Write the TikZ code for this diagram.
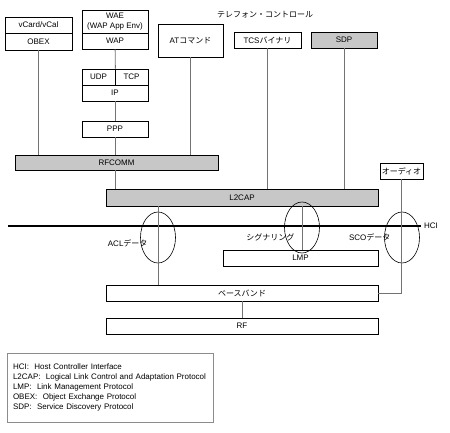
\documentclass[tikz,border=0pt]{standalone}
\usepackage{fontspec}
\setmainfont{Liberation Sans}
\newfontfamily\jp{Noto Sans CJK JP}
\usetikzlibrary{positioning,shapes.geometric}

\begin{document}
\begin{tikzpicture}[x=1pt,y=-1pt,font=\fontsize{8}{10}\selectfont,
	layer/.style={draw,line width=0.8pt,rectangle,inner sep=0pt,minimum height=16pt},
	grayed/.style={layer,fill=black!22},
	link/.style={draw=black!55,line width=0.8pt},
	lasso/.style={draw,ellipse,line width=0.6pt,inner sep=0pt,minimum width=35pt,minimum height=51pt}]
				\useasboundingbox (0,0) rectangle (450,432);
				% upper stacks
				\node[layer,minimum width=67pt] (vcard) at (38.5,25) {vCard/vCal};
				\node[layer,minimum width=67pt,minimum height=17pt] (obex) at (38.5,41.5) {OBEX};
				\node[layer,minimum width=66pt,minimum height=23pt,align=center] (wae) at (115,21.5) {WAE\\(WAP App Env)};
				\node[layer,minimum width=66pt] (wap) at (115,41) {WAP};
				\node[layer,minimum width=33pt] (udp) at (98.5,77) {UDP};
				\node[layer,minimum width=33pt] (tcp) at (131.5,77) {TCP};
				\node[layer,minimum width=66pt] (ip) at (115,93) {IP};
				\node[layer,minimum width=66pt] (ppp) at (115,129) {PPP};
				\node[layer,minimum width=65pt,minimum height=33pt] (at) at (190.5,40.5) {AT\jp コマンド};
				\node (tel) at (265,15) {\jp テレフォン・コントロール};
				\node[layer,minimum width=67pt] (tcs) at (267.5,40) {TCS\jp バイナリ};
				\node[grayed,minimum width=66pt] (sdp) at (344,40) {SDP};
				\node[layer,minimum width=43pt] (audio) at (401.5,171) {\jp オーディオ};
				% lower layers
				\node[grayed,minimum width=203pt,minimum height=15pt] (rfcomm) at (116.5,162.5) {RFCOMM};
				\node[grayed,minimum width=272pt,minimum height=17pt] (l2cap) at (242,197.5) {L2CAP};
				\node[layer,minimum width=155pt] (lmp) at (300.5,258) {LMP};
				\node[layer,minimum width=272pt] (base) at (242,293) {\jp ベースバンド};
				\node[layer,minimum width=272pt] (rf) at (242,326) {RF};
				% HCI line
				\coordinate (hci_0) at (8,226);
				\node (hci) at (431,226) {HCI};
				\draw[line width=1.3pt] (hci_0) -- (hci.west);
				% links
				\path[link]
				(obex) edge (obex |- rfcomm.north)
				(wap) edge (udp.north east)
				(ip) edge (ppp)
				(ppp) edge (ppp |- rfcomm.north)
				(at) edge (at |- rfcomm.north)
				(ppp |- rfcomm.south) edge (ppp |- l2cap.north)
				(tcs) edge (tcs |- l2cap.north)
				(sdp) edge (sdp |- l2cap.north)
				(base) edge (rf);
				\node[lasso] (acl) at (158,237.5) {};
				\node[lasso] (sig) at (302,227.5) {};
				\node[lasso] (sco) at (402,237.5) {};
				\path[link]
				(acl |- l2cap.south) edge (acl |- base.north)
				(sig |- l2cap.south) edge (sig |- lmp.north);
				\draw[link] (audio) -- (audio |- base.east) -- (base.east);
				\node[anchor=east] (acl_t) at (151,243) {ACL\jp データ};
				\node[anchor=east] (sig_t) at (298,237) {\jp シグナリング};
				\node[anchor=east] (sco_t) at (394,237) {SCO\jp データ};
				% legend
				\node[draw=black!45,line width=0.8pt,inner sep=6pt,text width=194pt,minimum height=69pt,align=left] (key) at (110,387.5)
				{HCI:\ \ Host Controller Interface\\
				L2CAP:\ \ Logical Link Control and Adaptation Protocol\\
				LMP:\ \ Link Management Protocol\\
				OBEX:\ \ Object Exchange Protocol\\
				SDP:\ \ Service Discovery Protocol};
			\end{tikzpicture}
\end{document}
